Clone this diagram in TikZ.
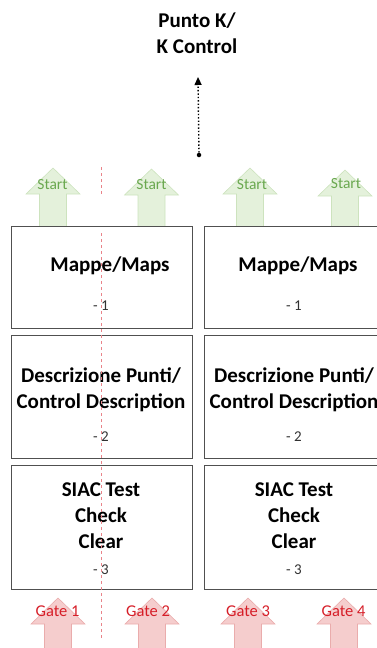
\documentclass[tikz,border=0pt]{standalone}
\usepackage{fontspec}
\setmainfont{Carlito}
\usetikzlibrary{positioning, arrows.meta}

\definecolor{startgreen}{RGB}{106,168,79}
\definecolor{startfill}{RGB}{228,241,219}
\definecolor{startedge}{RGB}{205,227,190}
\definecolor{gatered}{RGB}{214,30,40}
\definecolor{gatefill}{RGB}{245,205,205}
\definecolor{gateedge}{RGB}{234,172,172}
\definecolor{boxgray}{RGB}{80,80,80}
\definecolor{numgray}{RGB}{50,50,50}

\begin{document}
\begin{tikzpicture}[x=1pt, y=-1pt,
	box/.style={draw=boxgray, line width=0.9pt, fill=white, minimum width=181pt, inner sep=0pt},
	boxtext/.style={font=\fontsize{21}{26}\selectfont\bfseries, align=center, inner sep=0pt},
	boxnum/.style={font=\fontsize{15}{17}\selectfont, text=numgray, inner sep=0pt},
	starttext/.style={font=\fontsize{15.5}{17}\selectfont, text=startgreen, inner sep=0pt},
	gatetext/.style={font=\fontsize{16.5}{18}\selectfont, text=gatered, inner sep=0pt},
	blockup/.pic={\path[pic actions] (0,0) -- (27,26) -- (13.5,26) -- (13.5,62)
		-- (-13.5,62) -- (-13.5,26) -- (-27,26) -- cycle;}
]
\useasboundingbox (0,0) rectangle (377,648);

% title and pointer
\node (title) [boxtext] at (197,33) {Punto K/\\K Control};
\node (dot) [circle, fill, inner sep=0pt, minimum size=4.5pt] at (199,155) {};
\coordinate (tip) at (198,77);
\draw[dotted, line width=1.4pt, -{Triangle[width=7pt, length=8pt]}] (dot) -- (tip);

% start arrows
\foreach \x/\y in {53/168, 151.5/169, 250/168, 345/170}
	\pic[fill=startfill, draw=startedge, line width=0.6pt] at (\x,\y) {blockup};
\foreach \x/\y [count=\i] in {52.5/185, 151.5/185, 252/185, 346/184}
	\node (start\i) [starttext] at (\x,\y) {Start};

% boxes
\node (map1) [box, minimum height=102pt] at (101.5,277) {};
\node (map2) [box, minimum height=102pt, right=12pt of map1] {};
\node (desc1) [box, minimum height=123pt, below=7pt of map1] {};
\node (desc2) [box, minimum height=123pt, below=7pt of map2] {};
\node (siac1) [box, minimum height=124pt, below=6pt of desc1] {};
\node (siac2) [box, minimum height=124pt, below=6pt of desc2] {};

\node (mapt1) [boxtext] at (110,266) {Mappe/Maps};
\node (mapt2) [boxtext] at (298,266) {Mappe/Maps};
\node (mapn1) [boxnum] at (101,306) {- 1};
\node (mapn2) [boxnum] at (294,306) {- 1};

\node (desct1) [boxtext] at (101,390) {Descrizione Punti/\\Control Description};
\node (desct2) [boxtext] at (294,390) {Descrizione Punti/\\Control Description};
\node (descn1) [boxnum] at (101,437) {- 2};
\node (descn2) [boxnum] at (294,437) {- 2};

\node (siact1) [boxtext] at (101,516) {SIAC Test\\Check\\Clear};
\node (siact2) [boxtext] at (294,516) {SIAC Test\\Check\\Clear};
\node (siacn1) [boxnum] at (101,570) {- 3};
\node (siacn2) [boxnum] at (294,570) {- 3};

% gate arrows
\foreach \x in {58, 152, 248, 344}
	\pic[fill=gatefill, draw=gateedge, line width=0.6pt] at (\x,598) {blockup};
\foreach \x/\n in {57.5/1, 148/2, 248/3, 343.5/4}
	\node (gate\n) [gatetext] at (\x,611) {Gate \n};

% divider
\draw[gatered!55, dashed, line width=0.6pt] (101.5,167) -- (101.5,194) (101.5,233) -- (101.5,640);
\end{tikzpicture}
\end{document}
